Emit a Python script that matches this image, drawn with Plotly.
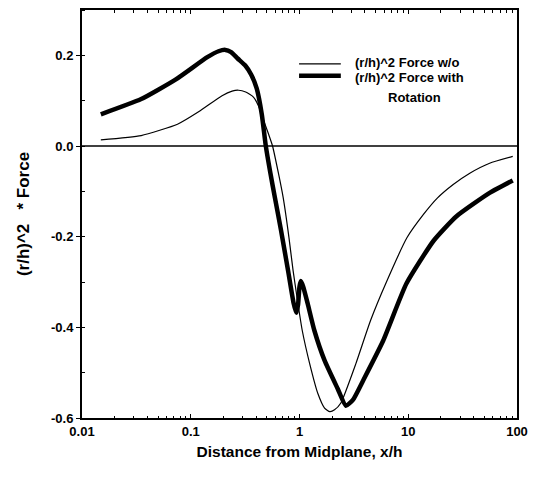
import plotly.graph_objects as go

# (r/h)^2 force without rotation (thin curve)
x_wo = [0.0149, 0.035, 0.0755, 0.119, 0.194, 0.24, 0.275, 0.32, 0.377, 0.42,
        0.449, 0.516, 0.565, 0.64, 0.708, 0.80, 0.873, 1.0, 1.06, 1.24,
        1.475, 1.7, 1.9, 2.1, 2.4, 3.3, 4.5, 6.3, 9.75, 13.8,
        18.5, 25.9, 36.8, 56.0, 91.4]
y_wo = [0.0136, 0.023, 0.048, 0.076, 0.111, 0.121, 0.123, 0.119, 0.108, 0.088,
        0.068, 0.028, 0.0, -0.06, -0.114, -0.202, -0.275, -0.37, -0.407, -0.48,
        -0.546, -0.578, -0.586, -0.582, -0.567, -0.48, -0.385, -0.30, -0.202, -0.151,
        -0.115, -0.085, -0.06, -0.038, -0.023]

# (r/h)^2 force with rotation (thick curve)
x_rot = [0.0149, 0.035, 0.073, 0.142, 0.18, 0.208, 0.235, 0.27, 0.316, 0.36,
         0.404, 0.45, 0.49, 0.54, 0.594, 0.675, 0.785, 0.88, 0.935, 0.97,
         1.0, 1.03, 1.08, 1.19, 1.37, 1.70, 2.24, 2.67, 3.1, 3.87,
         5.89, 9.6, 17.1, 27.8, 56.0, 91.4]
y_rot = [0.070, 0.1035, 0.147, 0.196, 0.209, 0.212, 0.207, 0.193, 0.178, 0.157,
         0.127, 0.07, 0.0, -0.06, -0.114, -0.185, -0.275, -0.345, -0.368, -0.35,
         -0.31, -0.298, -0.31, -0.348, -0.407, -0.473, -0.535, -0.573, -0.56, -0.516,
         -0.429, -0.304, -0.209, -0.155, -0.1035, -0.076]

leg_labels = ["(r/h)^2 Force w/o", "(r/h)^2 Force with", "Rotation"]

FONT = "Liberation Sans, Arial, Helvetica, sans-serif"

fig = go.Figure()
fig.add_trace(go.Scatter(x=x_wo, y=y_wo, mode="lines", name=leg_labels[0], showlegend=False,
                         line=dict(color="black", width=1.2, shape="spline", smoothing=0.5)))
fig.add_trace(go.Scatter(x=x_rot, y=y_rot, mode="lines", name=leg_labels[1] + " " + leg_labels[2],
                         showlegend=False,
                         line=dict(color="black", width=4.5, shape="spline", smoothing=0.5)))

fig.add_hline(y=0, line=dict(color="black", width=1.5))

# legend drawn by hand (line samples + labels)
fig.add_shape(type="line", xref="paper", yref="paper", x0=0.499, x1=0.595, y0=0.868, y1=0.868,
              line=dict(color="black", width=1.2))
fig.add_shape(type="line", xref="paper", yref="paper", x0=0.499, x1=0.595, y0=0.839, y1=0.839,
              line=dict(color="black", width=4.5))
fig.add_annotation(x=0.624, y=0.872, xref="paper", yref="paper", text=leg_labels[0],
                   showarrow=False, xanchor="left", yanchor="middle",
                   font=dict(family=FONT, size=13, weight="bold"))
fig.add_annotation(x=0.624, y=0.834, xref="paper", yref="paper", text=leg_labels[1],
                   showarrow=False, xanchor="left", yanchor="middle",
                   font=dict(family=FONT, size=13, weight="bold"))
fig.add_annotation(x=0.765, y=0.785, xref="paper", yref="paper", text=leg_labels[2],
                   showarrow=False, xanchor="center", yanchor="middle",
                   font=dict(family=FONT, size=13, weight="bold"))

fig.update_layout(
    width=536, height=479,
    margin=dict(l=82, r=15, t=8, b=61),
    paper_bgcolor="white", plot_bgcolor="white",
    font=dict(family=FONT, size=13, color="black"),
    showlegend=False,
    xaxis=dict(type="log", range=[-2, 2], tickvals=[0.01, 0.1, 1, 10, 100],
               ticktext=["0.01", "0.1", "1", "10", "100"],
               ticks="inside", ticklen=4, tickwidth=1.2, tickcolor="black",
               minor=dict(ticks="inside", ticklen=2.5, tickcolor="black", dtick="D1"),
               showline=True, linecolor="black", linewidth=2, mirror="allticks",
               showgrid=False, zeroline=False,
               tickfont=dict(family=FONT, size=13, weight="bold"),
               title=dict(text="Distance from Midplane, x/h", standoff=9,
                          font=dict(family=FONT, size=15.5, weight="bold"))),
    yaxis=dict(range=[-0.6, 0.3], tickvals=[-0.6, -0.4, -0.2, 0.0, 0.2],
               ticktext=["-0.6", "-0.4", "-0.2", "0.0", "0.2"],
               ticks="outside", ticklen=4, tickwidth=1.2, tickcolor="black",
               minor=dict(ticks="inside", ticklen=3, tickcolor="black", dtick=0.1),
               showline=True, linecolor="black", linewidth=2, mirror=True,
               showgrid=False, zeroline=False,
               tickfont=dict(family=FONT, size=13, weight="bold"),
               title=dict(text="(r/h)^2&nbsp;&nbsp;&nbsp;*&nbsp;Force", standoff=17,
                          font=dict(family=FONT, size=17, weight="bold"))),
    yaxis2=dict(overlaying="y", side="right", matches="y", range=[-0.6, 0.3],
                tickvals=[-0.6, -0.4, -0.2, 0.0, 0.2], showticklabels=False,
                ticks="inside", ticklen=4, tickwidth=1.2, tickcolor="black",
                minor=dict(ticks="inside", ticklen=4, tickcolor="black", dtick=0.1),
                showgrid=False, zeroline=False, showline=False),
)

# page body has a default margin; drop it so the figure sits at the window origin
fig.write_html("out.html", config={"displayModeBar": False},
               post_script="document.body.style.margin = '0px';")
